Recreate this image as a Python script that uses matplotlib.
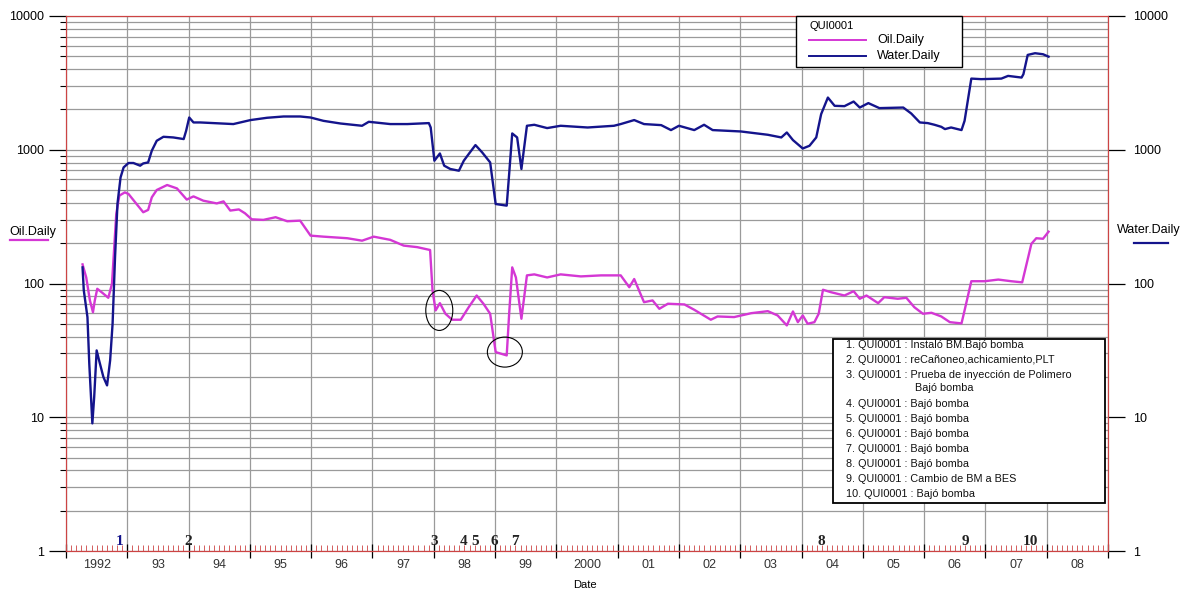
import numpy as np
import matplotlib
matplotlib.use("Agg")
import matplotlib.pyplot as plt
import matplotlib.transforms as mtransforms
from matplotlib.patches import Ellipse, Rectangle
from matplotlib.lines import Line2D
from matplotlib.ticker import FixedLocator, FuncFormatter, NullLocator, LogLocator

plt.rcParams['font.family'] = ['Liberation Sans', 'DejaVu Sans']

# Water.Daily (decimal year, value)
water_t = [1992.27, 1992.29, 1992.35, 1992.38, 1992.43, 1992.46, 1992.50, 1992.54, 1992.61, 1992.67,
           1992.72, 1992.76, 1992.80, 1992.84, 1992.89, 1992.94, 1993.02, 1993.10, 1993.21, 1993.26,
           1993.34, 1993.40, 1993.48, 1993.59, 1993.75, 1993.92, 1993.96, 1994.01, 1994.08, 1994.19,
           1994.73, 1995.01, 1995.28, 1995.55, 1995.82, 1995.99, 1996.20, 1996.48, 1996.83, 1996.94,
           1997.29, 1997.57, 1997.92, 1997.95, 1998.01, 1998.10, 1998.17, 1998.27, 1998.41, 1998.49,
           1998.57, 1998.68, 1998.79, 1998.92, 1999.01, 1999.19, 1999.23, 1999.28, 1999.36, 1999.43,
           1999.52, 1999.64, 1999.85, 2000.07, 2000.51, 2000.94, 2001.05, 2001.27, 2001.43, 2001.71,
           2001.87, 2002.00, 2002.25, 2002.41, 2002.55, 2003.01, 2003.45, 2003.67, 2003.76, 2003.86,
           2004.02, 2004.13, 2004.24, 2004.32, 2004.43, 2004.54, 2004.70, 2004.85, 2004.95, 2005.09,
           2005.27, 2005.66, 2005.79, 2005.93, 2006.06, 2006.17, 2006.28, 2006.34, 2006.44, 2006.61,
           2006.66, 2006.77, 2006.93, 2007.26, 2007.37, 2007.59, 2007.62, 2007.69, 2007.81, 2007.94,
           2008.03]
water_v = [132, 89, 56, 25, 9.0, 14.2, 31.6, 26.6, 20, 17.3,
           26.6, 50, 157, 395, 621, 738, 796, 796, 760, 790,
           804, 984, 1167, 1250, 1236, 1202, 1387, 1742, 1600, 1600,
           1556, 1667, 1734, 1773, 1773, 1742, 1645, 1571, 1511, 1618,
           1556, 1556, 1582, 1467, 828, 938, 760, 718, 697, 828,
           929, 1084, 955, 804, 393, 382, 659, 1324, 1236, 718,
           1511, 1537, 1452, 1511, 1467, 1511, 1556, 1667, 1556, 1528,
           1403, 1511, 1403, 1537, 1403, 1370, 1294, 1236, 1346, 1181,
           1022, 1071, 1236, 1846, 2456, 2130, 2118, 2293, 2068, 2232,
           2048, 2068, 1866, 1600, 1582, 1537, 1484, 1427, 1467, 1403,
           1645, 3404, 3372, 3404, 3566, 3465, 3673, 5117, 5270, 5176,
           4968]

# Oil.Daily
oil_t = [1992.27, 1992.33, 1992.39, 1992.44, 1992.47, 1992.51, 1992.60, 1992.69, 1992.75, 1992.77,
         1992.82, 1992.87, 1992.96, 1993.02, 1993.13, 1993.26, 1993.34, 1993.40, 1993.48, 1993.65,
         1993.81, 1993.97, 1994.08, 1994.24, 1994.46, 1994.57, 1994.68, 1994.82, 1994.92, 1995.03,
         1995.22, 1995.42, 1995.61, 1995.82, 1995.99, 1996.20, 1996.59, 1996.83, 1997.02, 1997.29,
         1997.51, 1997.73, 1997.94, 1997.98, 1998.03, 1998.10, 1998.19, 1998.30, 1998.44, 1998.57,
         1998.70, 1998.81, 1998.92, 1999.01, 1999.19, 1999.23, 1999.28, 1999.34, 1999.43, 1999.52,
         1999.64, 1999.85, 2000.07, 2000.40, 2000.73, 2001.05, 2001.19, 2001.27, 2001.43, 2001.57,
         2001.68, 2001.82, 2002.09, 2002.25, 2002.52, 2002.63, 2002.90, 2003.18, 2003.45, 2003.61,
         2003.76, 2003.86, 2003.94, 2004.02, 2004.10, 2004.21, 2004.28, 2004.35, 2004.48, 2004.70,
         2004.85, 2004.95, 2005.06, 2005.25, 2005.35, 2005.57, 2005.71, 2005.84, 2005.98, 2006.12,
         2006.28, 2006.42, 2006.61, 2006.66, 2006.77, 2006.99, 2007.21, 2007.42, 2007.60, 2007.75,
         2007.83, 2007.94, 2008.03]
oil_v = [139, 111, 74.7, 61, 74.7, 91.3, 84.7, 78.2, 99.5, 140,
         331, 454, 480, 467, 404, 341, 355, 441, 500, 545,
         514, 424, 448, 416, 397, 411, 351, 358, 335, 302,
         299, 313, 292, 295, 228, 224, 218, 209, 224, 212,
         192, 187, 178, 88.7, 62.9, 71.3, 59.4, 53.6, 53.6, 66.5,
         81.3, 70.6, 59.4, 30.7, 29, 59.4, 132, 111, 54.5, 115,
         117, 111, 117, 113, 115, 115, 93.8, 108, 72.5, 74.7,
         64.7, 70.6, 69.7, 63.6, 53.6, 56.7, 56.1, 60, 62.1, 57.7,
         48.6, 61.8, 51.4, 57.7, 50, 51.4, 59.4, 89.8, 86.1, 81.3,
         87.6, 76.9, 81.3, 71.3, 79, 76.9, 78.2, 66.5, 59.4, 60.4,
         56.7, 51.4, 50.3, 62.9, 104, 104, 107, 104, 102, 198,
         218, 216, 244]

year_labels = ["1992", "93", "94", "95", "96", "97", "98", "99", "2000",
               "01", "02", "03", "04", "05", "06", "07", "08"]

event_t = [1992.87, 1994.0, 1998.0, 1998.49, 1998.68, 1998.99, 1999.33, 2004.33, 2006.68, 2007.74]
event_labels = ["1", "2", "3", "4", "5", "6", "7", "8", "9", "10"]
event_notes = [
    "1. QUI0001 : Instaló BM.Bajó bomba",
    "2. QUI0001 : reCañoneo,achicamiento,PLT",
    "3. QUI0001 : Prueba de inyección de Polimero",
    "4. QUI0001 : Bajó bomba",
    "5. QUI0001 : Bajó bomba",
    "6. QUI0001 : Bajó bomba",
    "7. QUI0001 : Bajó bomba",
    "8. QUI0001 : Bajó bomba",
    "9. QUI0001 : Cambio de BM a BES",
    "10. QUI0001 : Bajó bomba",
]

# circled points
circle_t = [1998.09, 1999.16]
circle_v = [62.9, 30.7]

oil_color = "#d437d4"
water_color = "#14148c"
grid_color = "#9a9a9a"
frame_color = "#cc4444"

W, H = 1186, 590
fig = plt.figure(figsize=(W / 100, H / 100), dpi=100)
ax = fig.add_axes([66 / W, 1 - 551 / H, (1108 - 66) / W, (551 - 16) / H])

ax.plot(oil_t, oil_v, color=oil_color, lw=1.7, zorder=3)
ax.plot(water_t, water_v, color=water_color, lw=1.7, zorder=3)

ax.set_yscale("log")
ax.set_ylim(1, 10000)
ax.set_xlim(1992, 2009)

# x axis: year boundaries + monthly ticks
ax.set_xticks(np.arange(1992, 2010))
months = [y + m / 12 for y in range(1992, 2009) for m in range(1, 12)]
ax.xaxis.set_minor_locator(FixedLocator(months))
ax.tick_params(axis="x", which="major", direction="inout", length=10, width=0.9,
               color="black", labelbottom=False)
ax.tick_params(axis="x", which="minor", direction="in", length=4, width=0.6, color=frame_color)

ax.yaxis.set_major_formatter(FuncFormatter(lambda v, p: "%d" % v))
ax.yaxis.set_minor_locator(LogLocator(base=10, subs=np.arange(2, 10)))
ax.yaxis.set_minor_formatter(FuncFormatter(lambda v, p: ""))
ax.tick_params(axis="y", which="major", direction="out", length=12, width=0.9,
               color="black", labelsize=9, pad=4)
ax.tick_params(axis="y", which="minor", direction="out", length=4, width=0.8, color="black")

ax.grid(True, which="major", axis="x", color=grid_color, lw=0.9)
ax.grid(True, which="both", axis="y", color=grid_color, lw=0.9)

for s in ax.spines.values():
    s.set_color(frame_color)
    s.set_linewidth(0.8)

ax2 = ax.twinx()
ax2.set_yscale("log")
ax2.set_ylim(1, 10000)
ax2.yaxis.set_minor_locator(NullLocator())
ax2.yaxis.set_major_formatter(FuncFormatter(lambda v, p: "%d" % v))
ax2.tick_params(axis="y", which="major", direction="out", length=12, width=0.9,
                color="black", labelsize=9, pad=6)
for s in ax2.spines.values():
    s.set_color(frame_color)
    s.set_linewidth(0.8)

# year labels centred between boundaries
bt = mtransforms.blended_transform_factory(ax.transData, ax.transAxes)
for i, lab in enumerate(year_labels):
    ax.text(1992 + i + 0.5, -0.027, lab, transform=bt, ha="center", va="center",
            fontsize=9, color="#333333")

# event numbers
for t, lab in zip(event_t, event_labels):
    ax.text(t, 0.017, lab, transform=bt, ha="center", va="center", fontsize=11,
            family="Liberation Serif", weight="bold",
            color=water_color if lab == "1" else "#222222")

fig.text(585 / W, 1 - 585 / H, "Date", fontsize=8, ha="center", va="center")

# side labels
fig.text(9 / W, 1 - 232 / H, "Oil.Daily", fontsize=9, ha="left", va="center")
fig.add_artist(Line2D([10 / W, 48 / W], [1 - 240 / H] * 2, color=oil_color, lw=1.6))
fig.text(1117 / W, 1 - 230 / H, "Water.Daily", fontsize=9, ha="left", va="center")
fig.add_artist(Line2D([1134 / W, 1168 / W], [1 - 243 / H] * 2, color=water_color, lw=1.6))

# legend box at top
fig.add_artist(Rectangle((796 / W, 1 - 67 / H), (962 - 796) / W, (67 - 16) / H,
                         transform=fig.transFigure, facecolor="white", edgecolor="black",
                         lw=1.0, zorder=5))
fig.text(809 / W, 1 - 26 / H, "QUI0001", fontsize=8, va="center", zorder=6)
fig.add_artist(Line2D([809 / W, 866 / W], [1 - 40 / H] * 2, color=oil_color, lw=1.4, zorder=6))
fig.add_artist(Line2D([809 / W, 866 / W], [1 - 56 / H] * 2, color=water_color, lw=1.4, zorder=6))
fig.text(877 / W, 1 - 40 / H, "Oil.Daily", fontsize=9, va="center", zorder=6)
fig.text(877 / W, 1 - 56 / H, "Water.Daily", fontsize=9, va="center", zorder=6)

# events box
fig.add_artist(Rectangle((833 / W, 1 - 503 / H), (1105 - 833) / W, (503 - 339) / H,
                         transform=fig.transFigure, facecolor="white", edgecolor="black",
                         lw=1.3, zorder=5))
line_y = [345, 360, 375, 404, 419, 434, 449, 464, 479, 494]
for yy, note in zip(line_y, event_notes):
    fig.text(846 / W, 1 - yy / H, note, fontsize=7.8, va="center", zorder=6, color="#111111")
fig.text(915 / W, 1 - 388 / H, "Bajó bomba", fontsize=7.8, va="center", zorder=6, color="#111111")

# circles around the dips
to_fig = ax.transData + fig.transFigure.inverted()
for (t, v), (w, h) in zip(zip(circle_t, circle_v), [(27, 40), (35, 30)]):
    cx, cy = to_fig.transform((t, v))
    fig.add_artist(Ellipse((cx, cy), w / W, h / H, transform=fig.transFigure,
                           fill=False, edgecolor="black", lw=0.8, zorder=6))

fig.savefig("out.png", dpi=100, facecolor="white")
